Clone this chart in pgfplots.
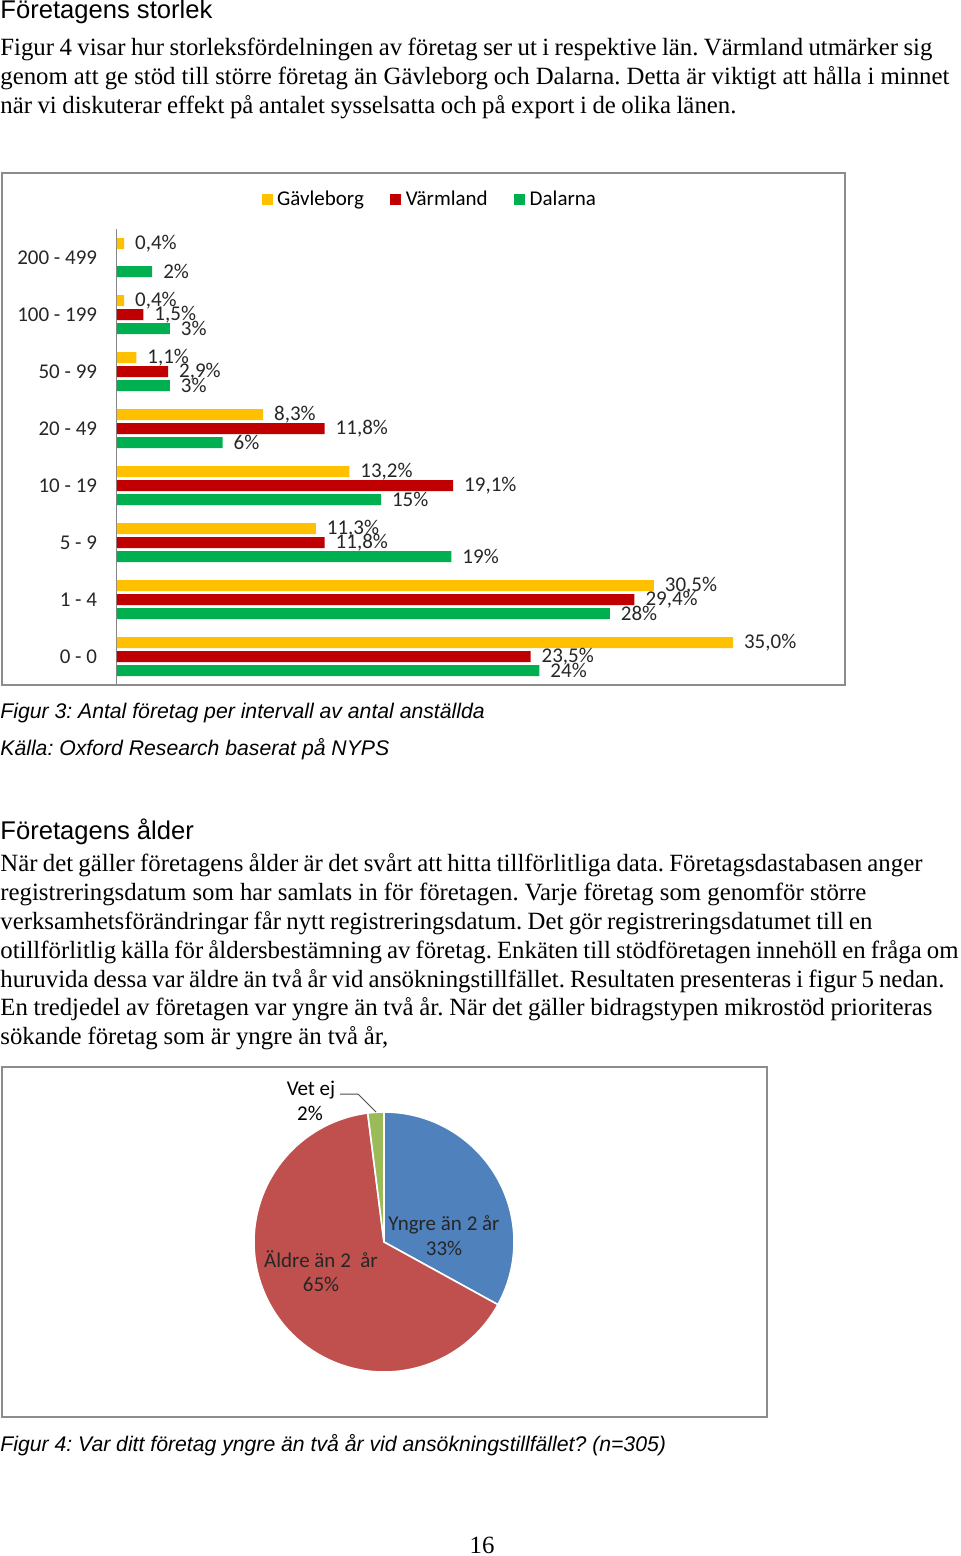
\documentclass[border=0pt]{standalone}
\usepackage{fontspec}
\setmainfont{Liberation Serif}
\newfontfamily\arial{Liberation Sans}
\newfontfamily\calibri{Carlito}
\usepackage{pgfplots}
\pgfplotsset{compat=1.18}
\frenchspacing

\definecolor{gavle}{HTML}{FFC000}
\definecolor{varm}{HTML}{C00000}
\definecolor{dala}{HTML}{00B050}
\definecolor{pieblue}{HTML}{4F81BD}
\definecolor{piered}{HTML}{C0504D}
\definecolor{piegreen}{HTML}{9BBB59}
\definecolor{framegray}{HTML}{8C8C8C}
\definecolor{axisgray}{HTML}{868686}

\newcommand{\chartfont}{\calibri\fontsize{10.5}{12}\selectfont}
\newcommand{\bodyfont}{\fontsize{12.4}{14}\selectfont}
\newcommand{\headfont}{\arial\fontsize{12.8}{14}\selectfont}
\newcommand{\capfont}{\arial\itshape\fontsize{10.6}{12}\selectfont}
% one body line, stretched to the width it has on the page (in px)
\newcommand{\bline}[3]{\node[anchor=base west, inner sep=0pt] at (0,#1) {\bodyfont\makebox[\dimexpr #2pt/2\relax][s]{#3}};}

% pie shares
\def\pieYngre{33}
\def\pieAldre{65}
\def\pieVet{2}

\begin{document}
\begin{tikzpicture}
\pgfmathsetmacro\angA{90-3.6*\pieYngre}
\pgfmathsetmacro\angB{\angA-3.6*\pieAldre}
\pgfmathsetmacro\angC{\angB-3.6*\pieVet}

\begin{scope}[x=0.5pt, y=-0.5pt]
  \path (0,0) rectangle (960,1556);
  % section 1
  \node[anchor=base west, inner sep=0pt] at (0,19) {\headfont Företagens storlek};
  \bline{56}{932}{Figur 4 visar hur storleksfördelningen av företag ser ut i respektive län. Värmland utmärker sig}
  \bline{85}{949}{genom att ge stöd till större företag än Gävleborg och Dalarna. Detta är viktigt att hålla i minnet}
  \bline{114}{736}{när vi diskuterar effekt på antalet sysselsatta och på export i de olika länen.}
  % frames
  \draw[framegray, line width=1pt] (2,173) rectangle (845,685);
  \draw[framegray, line width=1pt] (2,1067) rectangle (767,1417);
  % captions
  \node[anchor=base west, inner sep=0pt] at (0,718) {\capfont Figur 3: Antal företag per intervall av antal anställda};
  \node[anchor=base west, inner sep=0pt] at (0,755) {\capfont Källa: Oxford Research baserat på NYPS};
  % section 2
  \node[anchor=base west, inner sep=0pt] at (0,839) {\headfont Företagens ålder};
  \bline{871}{922}{När det gäller företagens ålder är det svårt att hitta tillförlitliga data. Företagsdastabasen anger}
  \bline{900}{866}{registreringsdatum som har samlats in för företagen. Varje företag som genomför större}
  \bline{929}{872}{verksamhetsförändringar får nytt registreringsdatum. Det gör registreringsdatumet till en}
  \bline{958}{958}{otillförlitlig källa för åldersbestämning av företag. Enkäten till stödföretagen innehöll en fråga om}
  \bline{987}{944}{huruvida dessa var äldre än två år vid ansökningstillfället. Resultaten presenteras i figur 5 nedan.}
  \bline{1015}{932}{En tredjedel av företagen var yngre än två år. När det gäller bidragstypen mikrostöd prioriteras}
  \bline{1044}{388}{sökande företag som är yngre än två år,}
  \node[anchor=base west, inner sep=0pt] at (0,1451) {\capfont Figur 4: Var ditt företag yngre än två år vid ansökningstillfället? (n=305)};
  \node[anchor=base, inner sep=0pt] at (482,1553) {\bodyfont 16};
\end{scope}

% bar chart: share of firms per size class
\begin{axis}[
    at={(58.5pt,-342.5pt)}, anchor=south west,
    scale only axis,
    width=352pt, height=228pt,
    xmin=0, xmax=40, ymin=-0.5, ymax=7.5,
    enlargelimits=false,
    xbar, bar width=5.5pt,
    hide x axis,
    axis y line*=left,
    y axis line style={axisgray, line width=0.5pt},
    ytick={0,...,7},
    yticklabels={0 - 0, 1 - 4, 5 - 9, 10 - 19, 20 - 49, 50 - 99, 100 - 199, 200 - 499},
    ytick style={draw=none},
    yticklabel style={font=\chartfont, text=black!85, anchor=east, inner sep=0pt, xshift=-5.5pt},
    every node near coord/.append style={font=\chartfont, text=black!85, anchor=west, xshift=2pt},
    /pgf/number format/assume math mode=true,
    point meta=x,
    legend image code/.code={\fill[#1] (0pt,-2.8pt) rectangle (5.6pt,2.8pt);},
    legend style={at={(0.446,1.064)}, anchor=center, draw=none, fill=none,
        font=\chartfont, legend columns=-1, inner sep=0pt,
        nodes={inner sep=2.2pt},
        /tikz/every even column/.append style={column sep=11pt}},
]
    % Gävleborg
    \addplot[fill=gavle, draw=none, bar shift=7pt,
        nodes near coords={\pgfmathprintnumber[fixed,fixed zerofill,precision=1,use comma]{\pgfplotspointmeta}\%}]
        coordinates {(35.0,0) (30.5,1) (11.3,2) (13.2,3) (8.3,4) (1.1,5) (0.4,6) (0.4,7)};
    % Värmland
    \addplot[fill=varm, draw=none, bar shift=0pt,
        nodes near coords={\pgfmathprintnumber[fixed,fixed zerofill,precision=1,use comma]{\pgfplotspointmeta}\%}]
        coordinates {(23.5,0) (29.4,1) (11.8,2) (19.1,3) (11.8,4) (2.9,5) (1.5,6)};
    % Dalarna
    \addplot[fill=dala, draw=none, bar shift=-7pt,
        nodes near coords={\pgfmathprintnumber[fixed,precision=0]{\pgfplotspointmeta}\%}]
        coordinates {(24,0) (28,1) (19,2) (15,3) (6,4) (3,5) (3,6) (2,7)};
    \legend{Gävleborg, Värmland, Dalarna}
\end{axis}

% pie chart: firm age
\begin{axis}[
    at={(192pt,-621pt)}, anchor=center,
    scale only axis, width=130pt, height=130pt,
    xmin=-1, xmax=1, ymin=-1, ymax=1,
    hide axis, clip=false,
]
    \filldraw[fill=pieblue, draw=white, line width=0.8pt, line join=round]
        (axis cs:0,0) -- ++(90:65pt) arc[start angle=90, end angle=\angA, radius=65pt] -- cycle;
    \filldraw[fill=piered, draw=white, line width=0.8pt, line join=round]
        (axis cs:0,0) -- ++(\angA:65pt) arc[start angle=\angA, end angle=\angB, radius=65pt] -- cycle;
    \filldraw[fill=piegreen, draw=white, line width=0.8pt, line join=round]
        (axis cs:0,0) -- ++(\angB:65pt) arc[start angle=\angB, end angle=\angC, radius=65pt] -- cycle;
\end{axis}

% pie labels, on top of the slices
\begin{scope}[x=0.5pt, y=-0.5pt]
  \draw[black!70, line width=0.5pt] (340,1094) -- (358,1094) -- (376,1112);
  \node[anchor=base, inner sep=0pt] at (311,1095) {\chartfont Vet ej};
  \node[anchor=base, inner sep=0pt] at (310,1120) {\chartfont 2\%};
  \node[anchor=base, inner sep=0pt, text=black!85] at (444,1230) {\chartfont Yngre än 2 år};
  \node[anchor=base, inner sep=0pt, text=black!85] at (444,1255) {\chartfont 33\%};
  \node[anchor=base, inner sep=0pt, text=black!85] at (321,1267) {\chartfont Äldre än 2\ \ år};
  \node[anchor=base, inner sep=0pt, text=black!85] at (321,1291) {\chartfont 65\%};
\end{scope}
\end{tikzpicture}
\end{document}
